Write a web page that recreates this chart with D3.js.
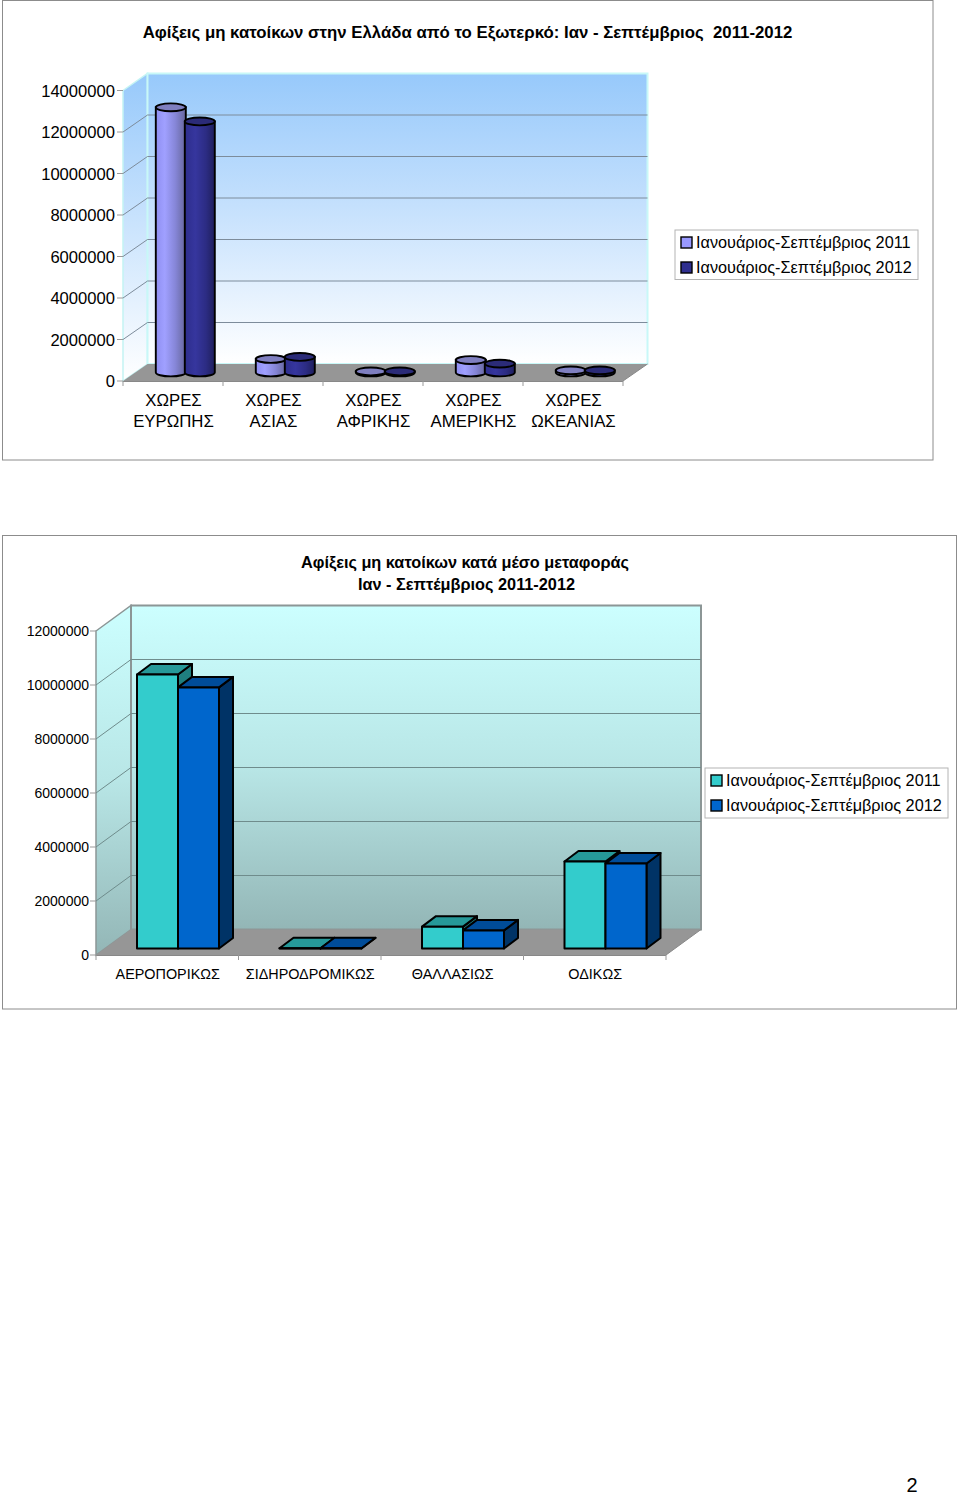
<!DOCTYPE html>
<html><head><meta charset="utf-8">
<script src="https://cdn.jsdelivr.net/npm/d3@7"></script>
<style>html,body{margin:0;padding:0;background:#fff}svg{display:block}text{font-family:"Liberation Sans",Arial,sans-serif;fill:#000}</style>
</head><body>
<script>
const regionLabels=[["ΧΩΡΕΣ","ΕΥΡΩΠΗΣ"],["ΧΩΡΕΣ","ΑΣΙΑΣ"],["ΧΩΡΕΣ","ΑΦΡΙΚΗΣ"],["ΧΩΡΕΣ","ΑΜΕΡΙΚΗΣ"],["ΧΩΡΕΣ","ΩΚΕΑΝΙΑΣ"]];
const regions2011=[12780000,650000,50000,600000,100000];
const regions2012=[12100000,750000,50000,430000,100000];
const transportLabels=["ΑΕΡΟΠΟΡΙΚΩΣ","ΣΙΔΗΡΟΔΡΟΜΙΚΩΣ","ΘΑΛΛΑΣΙΩΣ","ΟΔΙΚΩΣ"];
const transport2011=[10150000,10000,810000,3220000];
const transport2012=[9670000,10000,670000,3150000];
const seriesNames=["Ιανουάριος-Σεπτέμβριος 2011","Ιανουάριος-Σεπτέμβριος 2012"];
const ticks1=[0,2000000,4000000,6000000,8000000,10000000,12000000,14000000];
const ticks2=[0,2000000,4000000,6000000,8000000,10000000,12000000];
const title1="Αφίξεις μη κατοίκων στην Ελλάδα από το Εξωτερκό: Ιαν - Σεπτέμβριος  2011-2012";
const title2=["Αφίξεις μη κατοίκων κατά μέσο μεταφοράς","Ιαν - Σεπτέμβριος 2011-2012"];

const svg=d3.select("body").append("svg").attr("width",960).attr("height",1495);
const defs=svg.append("defs");
function grad(id,stops,vert){
  const g=defs.append("linearGradient").attr("id",id).attr("x1",0).attr("y1",0).attr("x2",vert?0:1).attr("y2",vert?1:0);
  stops.forEach(s=>g.append("stop").attr("offset",s[0]).attr("stop-color",s[1]));
}
grad("wall1",[[0,"#97c9fb"],[.45,"#c4e0fd"],[1,"#ffffff"]],true);
grad("side1",[[0,"#97c9fb"],[1,"#ffffff"]],true);
grad("wall2",[[0,"#ccffff"],[.5,"#b8e6e6"],[1,"#93b6b6"]],true);
grad("cyl1",[[0,"#8f8ff2"],[.3,"#a0a0ff"],[.65,"#8686d8"],[1,"#66669c"]],false);
grad("cyl2",[[0,"#2d2d8c"],[.35,"#36369e"],[.7,"#2c2c84"],[1,"#1f1f5c"]],false);
const line=d3.line();

svg.append("rect").attr("x",2.5).attr("y",.5).attr("width",930.5).attr("height",459.5).attr("fill","#fff").attr("stroke","#8c8c8c");
svg.append("rect").attr("x",2.5).attr("y",535.5).attr("width",954).attr("height",473.5).attr("fill","#fff").attr("stroke","#8c8c8c");

function legend(x,y,w,h,cols,sx,tx,y1,y2,fs){
  svg.append("rect").attr("x",x).attr("y",y).attr("width",w).attr("height",h).attr("fill","#fff").attr("stroke","#b4b4b4");
  [y1,y2].forEach((ly,i)=>{
    svg.append("rect").attr("x",sx).attr("y",ly-5.5).attr("width",11).attr("height",11).attr("fill",cols[i]).attr("stroke","#000").attr("stroke-width",1.4);
    svg.append("text").attr("x",tx).attr("y",ly+5.5).attr("font-size",fs).text(seriesNames[i]);
  });
}

// ---------- chart 1
(function(){
  const y=d3.scaleLinear().domain([0,14000000]).range([381,90.5]);
  const x=d3.scaleBand().domain(d3.range(5)).range([123,623]);
  const dx=24.5,dy=-17;
  const g=svg.append("g");
  svg.append("text").attr("x",467.5).attr("y",38).attr("text-anchor","middle").attr("font-size",16.8).attr("font-weight","bold").style("white-space","pre").text(title1);
  g.append("path").attr("d",line([[123,y(14e6)],[123+dx,y(14e6)+dy],[123+dx,381+dy],[123,381]])+"Z").attr("fill","url(#side1)").attr("stroke","#c4f4f4").attr("stroke-width",1.5);
  g.append("rect").attr("x",123+dx).attr("y",y(14e6)+dy).attr("width",500).attr("height",381-y(14e6)).attr("fill","url(#wall1)").attr("stroke","#c8f8f8").attr("stroke-width",2);
  g.append("path").attr("d",line([[123,381],[123+dx,381+dy],[623+dx,381+dy],[623,381]])+"Z").attr("fill","#969696");
  ticks1.forEach(t=>{
    const p=y(t);
    if(t>0&&t<14e6) g.append("line").attr("x1",123+dx).attr("x2",623+dx).attr("y1",p+dy).attr("y2",p+dy).attr("stroke","#7d8c9b");
    if(t>0&&t<14e6) g.append("line").attr("x1",123).attr("x2",123+dx).attr("y1",p).attr("y2",p+dy).attr("stroke","#7d8c9b");
    g.append("line").attr("x1",117).attr("x2",123).attr("y1",p).attr("y2",p).attr("stroke","#999");
    g.append("text").attr("x",115).attr("y",p+6).attr("text-anchor","end").attr("font-size",16.6).text(t);
  });
  g.append("line").attr("x1",123).attr("x2",623).attr("y1",381.5).attr("y2",381.5).attr("stroke","#888");
  d3.range(6).forEach(i=>{const X=i<5?x(i):623;g.append("line").attr("x1",X).attr("x2",X).attr("y1",381).attr("y2",386).attr("stroke","#999");});
  g.append("line").attr("x1",623).attr("x2",623+dx).attr("y1",381).attr("y2",381+dy).attr("stroke","#888");

  const r=15,ry=3.9,base=372.5;
  const scale=v=>y(0)-y(v);
  function cyl(cx,v,fill,top){
    const t=base-scale(v);
    g.append("path").attr("d",`M${cx-r},${t}L${cx-r},${base}A${r},${ry} 0 0 0 ${cx+r},${base}L${cx+r},${t}Z`).attr("fill",fill).attr("stroke","#000").attr("stroke-width",1.9);
    g.append("ellipse").attr("cx",cx).attr("cy",t).attr("rx",r).attr("ry",ry).attr("fill",top).attr("stroke","#000").attr("stroke-width",1.9);
  }
  regions2011.forEach((v,i)=>{
    const c=x(i)+x.bandwidth()/2+12.3;
    cyl(c-14.5,v,"url(#cyl1)","#7f7fc0");
    cyl(c+14.5,regions2012[i],"url(#cyl2)","#2b2b78");
    const lab=g.append("text").attr("text-anchor","middle").attr("font-size",16.8);
    regionLabels[i].forEach((s,k)=>lab.append("tspan").attr("x",x(i)+x.bandwidth()/2+.5).attr("y",405.5+k*21).text(s));
  });
  legend(675,230,243,49.5,["#9999ff","#2f2f8f"],681,696,242.5,267.5,16.25);
})();

// ---------- chart 2
(function(){
  const y=d3.scaleLinear().domain([0,12000000]).range([955,631]);
  const x=d3.scaleBand().domain(d3.range(4)).range([96,666]);
  const dx=35,dy=-25.5;
  const g=svg.append("g");
  title2.forEach((s,i)=>svg.append("text").attr("x",465+i*1.5).attr("y",568+i*22).attr("text-anchor","middle").attr("font-size",16.3).attr("font-weight","bold").text(s));
  g.append("path").attr("d",line([[96,y(12e6)],[96+dx,y(12e6)+dy],[96+dx,955+dy],[96,955]])+"Z").attr("fill","url(#wall2)").attr("stroke","#8c9696").attr("stroke-width",1.5);
  g.append("rect").attr("x",96+dx).attr("y",y(12e6)+dy).attr("width",570).attr("height",955-y(12e6)).attr("fill","url(#wall2)").attr("stroke","#8c9696").attr("stroke-width",2);
  g.append("path").attr("d",line([[96,955],[96+dx,955+dy],[666+dx,955+dy],[666,955]])+"Z").attr("fill","#969696");
  ticks2.forEach(t=>{
    const p=y(t);
    if(t>0&&t<12e6) g.append("line").attr("x1",96+dx).attr("x2",666+dx).attr("y1",p+dy).attr("y2",p+dy).attr("stroke","#6f8c8c");
    if(t>0&&t<12e6) g.append("line").attr("x1",96).attr("x2",96+dx).attr("y1",p).attr("y2",p+dy).attr("stroke","#6f8c8c");
    g.append("line").attr("x1",90).attr("x2",96).attr("y1",p).attr("y2",p).attr("stroke","#999");
    g.append("text").attr("x",89).attr("y",p+5).attr("text-anchor","end").attr("font-size",14).text(t);
  });
  g.append("line").attr("x1",96).attr("x2",666).attr("y1",955.5).attr("y2",955.5).attr("stroke","#888");
  d3.range(5).forEach(i=>{const X=i<4?x(i):666;g.append("line").attr("x1",X).attr("x2",X).attr("y1",955).attr("y2",960).attr("stroke","#999");});
  g.append("line").attr("x1",666).attr("x2",666+dx).attr("y1",955).attr("y2",955+dy).attr("stroke","#888");

  const bw=41,ox=14,oy=-10.5,base=948.5;
  const scale=v=>y(0)-y(v);
  function box(X,v,front,top,side){
    const t=base-scale(v);
    const a=(p,f)=>g.append("path").attr("d",line(p)+"Z").attr("fill",f).attr("stroke","#000").attr("stroke-width",2).attr("stroke-linejoin","round");
    a([[X+bw,t],[X+bw+ox,t+oy],[X+bw+ox,base+oy],[X+bw,base]],side);
    a([[X,t],[X+ox,t+oy],[X+bw+ox,t+oy],[X+bw,t]],top);
    a([[X,t],[X+bw,t],[X+bw,base],[X,base]],front);
  }
  transport2011.forEach((v,i)=>{
    const X=x(i)+41;
    box(X,v,"#33cccc","#269999","#1f7f7f");
    box(X+bw,transport2012[i],"#0066cc","#004c99","#003366");
    g.append("text").attr("x",x(i)+x.bandwidth()/2+.5).attr("y",978.5).attr("text-anchor","middle").attr("font-size",14.4).text(transportLabels[i]);
  });
  legend(705,768,243,50,["#33cccc","#0066cc"],711,726,780.5,805.5,16.25);
})();

svg.append("text").attr("x",912).attr("y",1491.5).attr("text-anchor","middle").attr("font-size",20).text("2");
</script>
</body></html>
